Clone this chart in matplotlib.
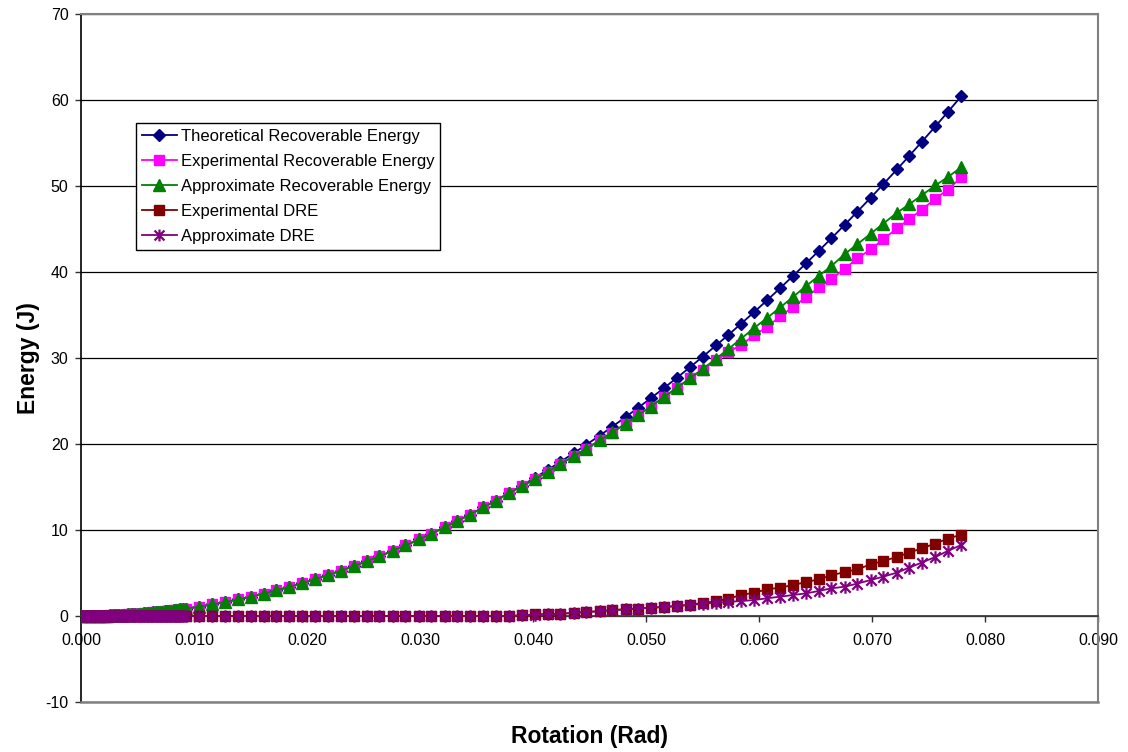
import matplotlib
matplotlib.use("Agg")
import matplotlib.pyplot as plt
from matplotlib.path import Path

plt.rcParams["font.family"] = ["Liberation Sans", "DejaVu Sans"]

# Rotation samples (rad): fine steps during initial loading, then regular steps
rotation = [
    0.0000, 0.0002, 0.0004, 0.0006, 0.0008, 0.0010, 0.0012, 0.0014, 0.0016, 0.0018,
    0.0020, 0.0022, 0.0024, 0.0026, 0.0028, 0.0030, 0.0032, 0.0034, 0.0036, 0.0038,
    0.0040, 0.0042, 0.0044, 0.0046, 0.0048, 0.0050, 0.0052, 0.0054, 0.0056, 0.0058,
    0.0060, 0.0062, 0.0064, 0.0066, 0.0068, 0.0070, 0.0072, 0.0074, 0.0076, 0.0078,
    0.0080, 0.0082, 0.0084, 0.0086, 0.0088, 0.0090,
    0.0093, 0.0104, 0.0116, 0.0127, 0.0139, 0.0150, 0.0162, 0.0173, 0.0184, 0.0196,
    0.0207, 0.0219, 0.0230, 0.0242, 0.0253, 0.0264, 0.0276, 0.0287, 0.0299, 0.0310,
    0.0322, 0.0333, 0.0344, 0.0356, 0.0367, 0.0379, 0.0390, 0.0402, 0.0413, 0.0424,
    0.0436, 0.0447, 0.0459, 0.0470, 0.0482, 0.0493, 0.0504, 0.0516, 0.0527, 0.0539,
    0.0550, 0.0562, 0.0573, 0.0584, 0.0596, 0.0607, 0.0619, 0.0630, 0.0642, 0.0653,
    0.0664, 0.0676, 0.0687, 0.0699, 0.0710, 0.0722, 0.0733, 0.0744, 0.0756, 0.0767,
    0.0779,
]

# Energy during initial loading (all three recoverable-energy curves coincide here)
loading = [
    0.000, 0.000, 0.002, 0.004, 0.006, 0.010, 0.014, 0.020, 0.026, 0.032,
    0.040, 0.048, 0.057, 0.067, 0.078, 0.090, 0.102, 0.115, 0.129, 0.144,
    0.159, 0.176, 0.193, 0.211, 0.230, 0.249, 0.269, 0.290, 0.312, 0.335,
    0.359, 0.383, 0.408, 0.434, 0.461, 0.488, 0.516, 0.545, 0.575, 0.606,
    0.637, 0.670, 0.703, 0.737, 0.771, 0.807,
]
loading_dre = [
    0.0, 0.0, 0.0, 0.0, 0.0, 0.0, 0.0, 0.0, 0.0, 0.0,
    0.0, 0.0, 0.0, 0.0, 0.0, 0.0, 0.0, 0.0, 0.0, 0.0,
    0.0, 0.0, 0.0, 0.0, 0.0, 0.0, 0.0, 0.0, 0.0, 0.0,
    0.0, 0.0, 0.0, 0.0, 0.0, 0.0, 0.0, 0.0, 0.0, 0.0,
    0.0, 0.0, 0.0, 0.0, 0.0, 0.0,
]

theoretical = loading + [
    0.86, 1.08, 1.34, 1.61, 1.92, 2.24, 2.61, 2.98, 3.37, 3.83,
    4.27, 4.78, 5.27, 5.83, 6.38, 6.94, 7.59, 8.20, 8.90, 9.57,
    10.33, 11.04, 11.79, 12.62, 13.42, 14.31, 15.15, 16.10, 16.99, 17.91,
    18.93, 19.90, 20.98, 22.00, 23.14, 24.21, 25.30, 26.52, 27.66, 28.94,
    30.13, 31.46, 32.70, 33.97, 35.38, 36.70, 38.16, 39.53, 41.05, 42.47,
    43.91, 45.51, 47.01, 48.66, 50.21, 51.92, 53.51, 55.13, 56.92, 58.59,
    60.44,
]

experimental = loading + [
    0.86, 1.08, 1.34, 1.61, 1.92, 2.24, 2.61, 2.98, 3.37, 3.83,
    4.27, 4.78, 5.27, 5.83, 6.38, 6.94, 7.59, 8.20, 8.90, 9.57,
    10.33, 11.04, 11.79, 12.62, 13.42, 14.31, 15.07, 15.92, 16.77, 17.65,
    18.57, 19.42, 20.42, 21.32, 22.34, 23.34, 24.33, 25.47, 26.50, 27.62,
    28.62, 29.75, 30.68, 31.53, 32.66, 33.60, 34.86, 35.93, 37.10, 38.20,
    39.18, 40.39, 41.58, 42.65, 43.81, 45.06, 46.14, 47.26, 48.50, 49.59,
    50.99,
]

approximate = loading + [
    0.86, 1.08, 1.34, 1.61, 1.92, 2.24, 2.61, 2.98, 3.37, 3.83,
    4.27, 4.78, 5.27, 5.83, 6.38, 6.94, 7.59, 8.20, 8.90, 9.57,
    10.33, 11.04, 11.79, 12.62, 13.42, 14.31, 15.08, 15.94, 16.78, 17.65,
    18.58, 19.44, 20.43, 21.34, 22.37, 23.35, 24.34, 25.47, 26.51, 27.66,
    28.71, 29.92, 31.06, 32.23, 33.52, 34.64, 35.91, 37.09, 38.41, 39.56,
    40.69, 42.10, 43.24, 44.47, 45.63, 46.88, 47.88, 48.92, 50.06, 51.03,
    52.18,
]

experimental_dre = loading_dre + [
    0.00, 0.00, 0.00, 0.00, 0.00, 0.00, 0.00, 0.00, 0.00, 0.00,
    0.00, 0.00, 0.00, 0.00, 0.00, 0.00, 0.00, 0.00, 0.00, 0.00,
    0.00, 0.00, 0.00, 0.00, 0.00, 0.00, 0.08, 0.18, 0.22, 0.26,
    0.36, 0.48, 0.56, 0.68, 0.80, 0.87, 0.97, 1.05, 1.16, 1.32,
    1.51, 1.71, 2.02, 2.44, 2.72, 3.10, 3.30, 3.60, 3.95, 4.27,
    4.73, 5.12, 5.43, 6.01, 6.40, 6.86, 7.37, 7.87, 8.42, 9.00,
    9.45,
]

approximate_dre = loading_dre + [
    0.00, 0.00, 0.00, 0.00, 0.00, 0.00, 0.00, 0.00, 0.00, 0.00,
    0.00, 0.00, 0.00, 0.00, 0.00, 0.00, 0.00, 0.00, 0.00, 0.00,
    0.00, 0.00, 0.00, 0.00, 0.00, 0.00, 0.07, 0.16, 0.21, 0.26,
    0.35, 0.46, 0.55, 0.66, 0.77, 0.86, 0.96, 1.05, 1.15, 1.28,
    1.42, 1.54, 1.64, 1.74, 1.86, 2.06, 2.25, 2.44, 2.64, 2.91,
    3.22, 3.41, 3.77, 4.19, 4.58, 5.04, 5.63, 6.21, 6.86, 7.56,
    8.26,
]

series_labels = [
    "Theoretical Recoverable Energy",
    "Experimental Recoverable Energy",
    "Approximate Recoverable Energy",
    "Experimental DRE",
    "Approximate DRE",
]
x_ticks = [0.00, 0.01, 0.02, 0.03, 0.04, 0.05, 0.06, 0.07, 0.08, 0.09]
y_ticks = [-10, 0, 10, 20, 30, 40, 50, 60, 70]

for s in (theoretical, experimental, approximate, experimental_dre, approximate_dre):
    assert len(s) == len(rotation)

# asterisk marker: an X with a vertical stroke through it
asterisk = Path(
    [(-1, -1), (1, 1), (-1, 1), (1, -1), (0, -1.2), (0, 1.2)],
    [Path.MOVETO, Path.LINETO, Path.MOVETO, Path.LINETO, Path.MOVETO, Path.LINETO],
)

W, H = 1128, 752
fig = plt.figure(figsize=(W / 100, H / 100), dpi=100)
left, right, top, bottom = 81, 1098, 14, 702
ax = fig.add_axes([left / W, 1 - bottom / H, (right - left) / W, (bottom - top) / H])

styles = [
    dict(color="#000080", marker="D", ms=6.2, mfc="#000080", mec="#000080"),
    dict(color="#FF00FF", marker="s", ms=7.4, mfc="#FF00FF", mec="#FF00FF"),
    dict(color="#008000", marker="^", ms=8.4, mfc="#008000", mec="#008000"),
    dict(color="#800000", marker="s", ms=7.6, mfc="#800000", mec="#800000"),
    dict(color="#800080", marker=asterisk, ms=9.0, mfc="none", mec="#800080", mew=1.6),
]
data = [theoretical, experimental, approximate, experimental_dre, approximate_dre]
handles = []
for values, label, st in zip(data, series_labels, styles):
    (ln,) = ax.plot(rotation, values, lw=1.3, label=label, zorder=3, **st)
    handles.append(ln)

ax.set_xlim(0, 0.09)
ax.set_ylim(-10, 70)
ax.set_xticks(x_ticks)
ax.set_xticklabels([f"{v:.3f}" for v in x_ticks])
ax.set_yticks(y_ticks)
ax.set_yticklabels([str(v) for v in y_ticks])

ax.yaxis.grid(True, color="black", lw=0.9)
ax.set_axisbelow(True)

frame_gray = "#808080"
for side in ("top", "right"):
    ax.spines[side].set_color(frame_gray)
    ax.spines[side].set_linewidth(1.5)
ax.spines["left"].set_color("black")
ax.spines["left"].set_linewidth(1.2)
ax.spines["bottom"].set_position(("data", 0))
ax.spines["bottom"].set_color("#404040")
ax.spines["bottom"].set_linewidth(1.3)
ax.plot([0, 1], [0, 0], transform=ax.transAxes, color=frame_gray, lw=1.8,
        clip_on=False, zorder=4)

ax.tick_params(axis="both", direction="out", length=4, width=1, colors="#303030",
               labelsize=11.5, labelcolor="black")
ax.tick_params(axis="x", pad=8)
ax.tick_params(axis="y", pad=5)

leg = ax.legend(
    handles=handles, loc="upper left",
    bbox_to_anchor=((136 - left) / (right - left), (bottom - 123) / (bottom - top)),
    borderaxespad=0, fontsize=12, frameon=True, fancybox=False, framealpha=1,
    edgecolor="black", labelspacing=0.6, handlelength=2.1, handletextpad=0.25,
    borderpad=0.35, markerscale=0.95,
)
leg.get_frame().set_linewidth(1.0)

fig.text(589.5 / W, 1 - 737 / H, "Rotation (Rad)", ha="center", va="center",
         fontsize=16.5, fontweight="bold")
fig.text(28 / W, 1 - 358 / H, "Energy (J)", ha="center", va="center",
         fontsize=16.5, fontweight="bold", rotation=90)

fig.savefig("out.png", dpi=100)
